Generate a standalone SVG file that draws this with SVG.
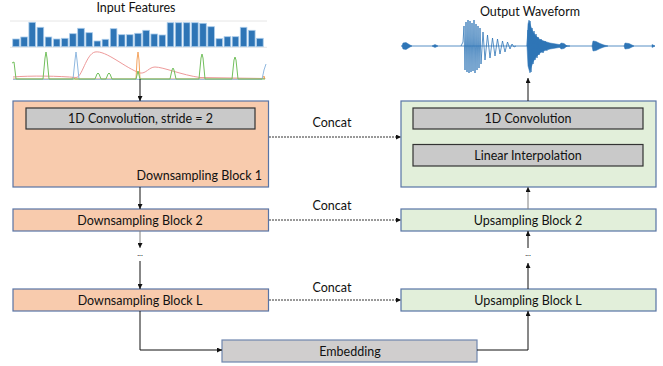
<svg xmlns="http://www.w3.org/2000/svg" width="663" height="366" viewBox="0 0 663 366">
<style>
text{font-family:Lato,"Liberation Sans",sans-serif;fill:#111}
.lbl{font-size:12.5px;text-anchor:middle}
.down{fill:#F8CBAD;stroke:#5874A6;stroke-width:1.2}
.up{fill:#E2EFDA;stroke:#5874A6;stroke-width:1.2}
.inner{fill:#C9C9C9;stroke:#333;stroke-width:1.2}
.emb{fill:#D0CECE;stroke:#6F86AE;stroke-width:1.2}
.bar{fill:#2E75B6;stroke:#A9CBEA;stroke-width:0.8}
.c{fill:none;stroke:#111;stroke-width:1}
.cg{fill:none;stroke:#808080;stroke-width:1}
.d{fill:none;stroke:#333;stroke-width:1;stroke-dasharray:2 1}
.w{fill:none;stroke:#2E75B6;stroke-width:0.8}
.wf{fill:#2E75B6;stroke:#2E75B6;stroke-width:0.5}
</style>
<defs>
<marker id="ah" markerWidth="5" markerHeight="5" refX="5" refY="2.5" orient="auto" markerUnits="userSpaceOnUse">
<path d="M0,0 L5,2.5 L0,5 z" fill="#111"/>
</marker>
</defs>

<g id="input-features">
<text class="lbl" x="136" y="12">Input Features</text>
<line x1="10" y1="21" x2="267" y2="21" stroke="#e6e6e6" stroke-width="1"/>
<line x1="10" y1="47.3" x2="267" y2="47.3" stroke="#e0e0e0" stroke-width="0.8"/>
<rect class="bar" x="12.7" y="39" width="6.6" height="7.7"/>
<rect class="bar" x="20.8" y="37" width="6.6" height="9.7"/>
<rect class="bar" x="28.9" y="22.3" width="6.6" height="24.4"/>
<rect class="bar" x="37.1" y="27.3" width="6.6" height="19.4"/>
<rect class="bar" x="45.2" y="37" width="6.6" height="9.7"/>
<rect class="bar" x="53.4" y="39" width="6.6" height="7.7"/>
<rect class="bar" x="61.5" y="38.3" width="6.6" height="8.4"/>
<rect class="bar" x="69.6" y="33.7" width="6.6" height="13"/>
<rect class="bar" x="77.7" y="28.3" width="6.6" height="18.4"/>
<rect class="bar" x="85.9" y="32.7" width="6.6" height="14"/>
<rect class="bar" x="94.0" y="41" width="6.6" height="5.7"/>
<rect class="bar" x="102.1" y="39.3" width="6.6" height="7.4"/>
<rect class="bar" x="110.3" y="28.7" width="6.6" height="18"/>
<rect class="bar" x="118.4" y="34.7" width="6.6" height="12"/>
<rect class="bar" x="126.5" y="34.7" width="6.6" height="12"/>
<rect class="bar" x="134.7" y="33.3" width="6.6" height="13.4"/>
<rect class="bar" x="142.8" y="30.3" width="6.6" height="16.4"/>
<rect class="bar" x="150.9" y="34" width="6.6" height="12.7"/>
<rect class="bar" x="159.0" y="35" width="6.6" height="11.7"/>
<rect class="bar" x="167.2" y="22.7" width="6.6" height="24"/>
<rect class="bar" x="175.3" y="22.7" width="6.6" height="24"/>
<rect class="bar" x="183.4" y="22.7" width="6.6" height="24"/>
<rect class="bar" x="191.6" y="22.7" width="6.6" height="24"/>
<rect class="bar" x="199.7" y="23.3" width="6.6" height="23.4"/>
<rect class="bar" x="207.8" y="26.7" width="6.6" height="20"/>
<rect class="bar" x="216.0" y="38.7" width="6.6" height="8"/>
<rect class="bar" x="224.1" y="36.7" width="6.6" height="10"/>
<rect class="bar" x="232.2" y="36.7" width="6.6" height="10"/>
<rect class="bar" x="240.3" y="27.3" width="6.6" height="19.4"/>
<rect class="bar" x="248.5" y="30.3" width="6.6" height="16.4"/>
<rect class="bar" x="256.6" y="38.3" width="6.6" height="8.4"/>
<path d="M13,77 C30,75.5 60,76 76,77.5 C82,78 86,54 95,52 C106,50 125,68 140,73 C146,74 149,67 155,67 C163,67 182,75 200,77.5 L265,78.5" fill="none" stroke="#EE9A9A" stroke-width="1"/>
<path d="M13,79 L72,79 L73,77 L75,79 L136,79 L137,60 L138,52 L139,60 L140,79 L262,79 L264,76 L265,79" fill="none" stroke="#F4A460" stroke-width="1"/>
<path d="M13,79.3 L73,79.3 L75,60 L76,52 L77,60 L79,79.3 L262,79.3 L264,70 L266,64" fill="none" stroke="#8FB8E0" stroke-width="1"/>
<path d="M12,63 L14,62 L16,79 L43,79 L45,58 L46,52 L47,58 L49,79 L95,79 L97,74 L98,73 L99,74 L101,79 L106,79 L108,74 L109,73 L110,74 L112,79 L136,79 L138,71 L140,79 L170,79 L172,70 L173,68 L174,70 L176,79 L199,79 L201,58 L202,54 L203,58 L205,79 L232,79 L234,60 L235,57 L236,60 L238,79 L265,79" fill="none" stroke="#72BF5C" stroke-width="1"/>
</g>

<g id="output-waveform">
<text class="lbl" x="530" y="16">Output Waveform</text>
<path class="w" d="M401,46 L655,46"/>
<path class="wf" d="M402,46 L403,43 L406,42.5 L410,45 L412,46 L410,47 L406,49.5 L403,49 z"/>
<path class="wf" d="M432,46 L435,44.5 L438,46 L435,47.5 z"/>
<path class="w" d="M461,46 L463,42 L464,26 L465,70 L466,22 L467,72 L468,20 L469,73 L470,21 L471,72 L472,23 L473,71 L474,20 L475,73 L476,24 L477,70 L478,26 L479,68 L480,28 L481,64 L483,32 L485,60 L487.5,35 L490,58 L492.5,38 L495,56 L497.5,39 L500,54 L502.5,41 L505,52 L507.5,42 L510,49 L512,44 L514,47 L516,46"/>
<path class="wf" d="M527,46 L528,24 L529,20 L531,27 L533,32 L536,36 L540,39.5 L545,41.5 L550,43 L556,44 L562,45 L570,46 L562,47 L556,48 L550,49 L545,50.5 L540,53 L536,57 L533,62 L531,68 L530,73 L528,66 z"/>
<path class="w" d="M527,46 L528,30 L529,66 L530,21 L531,72 L532,28 L533,64 L534,31 L535,60 L536,34 L537,58 L538,37 L539,55 L541,39 L543,53 L545,41 L547,51"/>
<path class="wf" d="M559,46 L561,43 L564,43.5 L567,46 L564,48.5 L561,49 z"/>
<path class="wf" d="M592,46 L593,41 L596,41.5 L600,43.5 L604,45 L608,46 L604,47 L600,48.5 L596,50.5 L593,51 z"/>
<path class="wf" d="M624,46 L625,43 L629,43.5 L634,46 L629,48.5 L625,49 z"/>
<path class="wf" d="M652,44.5 L655,46 L652,47.5 z"/>
</g>

<g id="down1">
<rect class="down" x="13" y="101" width="255.5" height="86"/>
<text x="262" y="180" style="font-size:12.5px;text-anchor:end">Downsampling Block 1</text>
</g>
<g id="down1-conv">
<rect class="inner" x="26" y="108" width="229" height="21"/>
<text class="lbl" x="140.5" y="123">1D Convolution, stride = 2</text>
</g>
<g id="down2">
<rect class="down" x="13" y="209" width="255.5" height="22"/>
<text class="lbl" x="140" y="224.5">Downsampling Block 2</text>
</g>
<g id="downL">
<rect class="down" x="13" y="289" width="255.5" height="22"/>
<text class="lbl" x="140" y="304.5">Downsampling Block L</text>
</g>
<g id="up1">
<rect class="up" x="401" y="101" width="255" height="86"/>
</g>
<g id="up1-conv">
<rect class="inner" x="413" y="108" width="230" height="21"/>
<text class="lbl" x="528" y="123">1D Convolution</text>
</g>
<g id="up1-interp">
<rect class="inner" x="413" y="144.5" width="230" height="21.5"/>
<text class="lbl" x="528" y="160">Linear Interpolation</text>
</g>
<g id="up2">
<rect class="up" x="401" y="209" width="255" height="22"/>
<text class="lbl" x="528" y="224.5">Upsampling Block 2</text>
</g>
<g id="upL">
<rect class="up" x="401" y="289" width="255" height="22"/>
<text class="lbl" x="528" y="304.5">Upsampling Block L</text>
</g>
<g id="embedding">
<rect class="emb" x="222" y="340" width="255" height="22"/>
<text class="lbl" x="350" y="355.5">Embedding</text>
</g>

<g id="connectors">
<path class="c" d="M140,79 L140,101" marker-end="url(#ah)"/>
<path class="c" d="M140,187 L140,209" marker-end="url(#ah)"/>
<path class="cg" d="M140,231 L140,248" marker-end="url(#ah)"/>
<text x="140" y="256" style="font-size:8px;text-anchor:middle">...</text>
<path class="c" d="M140,261 L140,289" marker-end="url(#ah)"/>
<path class="c" d="M140,311 L140,350 L222,350" marker-end="url(#ah)"/>
<path class="c" d="M477,350 L528,350 L528,311" marker-end="url(#ah)"/>
<path class="c" d="M528,289 L528,263" marker-end="url(#ah)"/>
<text x="528" y="256" style="font-size:8px;text-anchor:middle">...</text>
<path class="c" d="M528,248 L528,231" marker-end="url(#ah)"/>
<path class="cg" d="M528,209 L528,187" marker-end="url(#ah)"/>
<path class="c" d="M528,101 L528,78" marker-end="url(#ah)"/>
<path class="d" d="M269,137 L401,137" marker-end="url(#ah)"/>
<path class="d" d="M269,220 L401,220" marker-end="url(#ah)"/>
<path class="d" d="M269,300 L401,300" marker-end="url(#ah)"/>
<text class="lbl" x="332" y="127">Concat</text>
<text class="lbl" x="332" y="210">Concat</text>
<text class="lbl" x="332" y="292">Concat</text>
</g>
</svg>
